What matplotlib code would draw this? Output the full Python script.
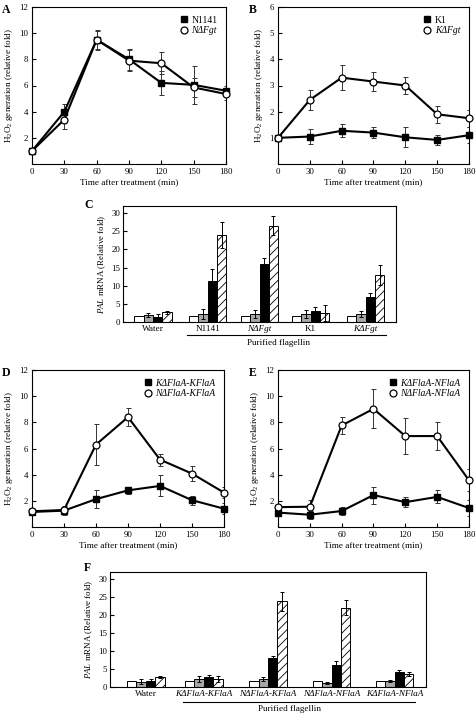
import numpy as np
import matplotlib.pyplot as plt
from matplotlib.lines import Line2D
from matplotlib import transforms

plt.rcParams['font.family'] = ['Liberation Serif', 'DejaVu Serif']
plt.rcParams['mathtext.fontset'] = 'custom'
plt.rcParams['mathtext.rm'] = 'Liberation Serif'
plt.rcParams['mathtext.it'] = 'Liberation Serif:italic'
plt.rcParams['mathtext.default'] = 'regular'
plt.rcParams['font.size'] = 6.3
plt.rcParams['hatch.linewidth'] = 0.6

times = [0, 30, 60, 90, 120, 150, 180]

# A: N1141 (squares) / NdFgt (circles)
a_sq = [1.0, 4.0, 9.5, 8.0, 6.2, 6.05, 5.6]
a_sq_err = [0.0, 0.6, 0.7, 0.8, 0.9, 1.45, 0.4]
a_ci = [1.0, 3.4, 9.5, 7.9, 7.7, 5.85, 5.35]
a_ci_err = [0.0, 0.7, 0.75, 0.8, 0.85, 0.75, 0.45]

# B: K1 / KdFgt
b_sq = [1.0, 1.05, 1.27, 1.2, 1.02, 0.92, 1.1]
b_sq_err = [0.0, 0.3, 0.25, 0.2, 0.38, 0.2, 0.3]
b_ci = [1.0, 2.45, 3.3, 3.15, 3.0, 1.9, 1.75]
b_ci_err = [0.0, 0.37, 0.47, 0.37, 0.33, 0.33, 0.33]

# D: KdFlaA-KFlaA / NdFlaA-KFlaA
d_sq = [1.15, 1.25, 2.13, 2.8, 3.14, 2.05, 1.4]
d_sq_err = [0.0, 0.3, 0.7, 0.25, 0.8, 0.35, 0.4]
d_ci = [1.2, 1.3, 6.3, 8.4, 5.15, 4.08, 2.63]
d_ci_err = [0.0, 0.3, 1.55, 0.7, 0.45, 0.6, 0.4]

# E: KdFlaA-NFlaA / NdFlaA-NFlaA
e_sq = [1.1, 0.94, 1.22, 2.44, 1.9, 2.3, 1.45]
e_sq_err = [0.0, 0.3, 0.3, 0.65, 0.4, 0.5, 0.6]
e_ci = [1.52, 1.55, 7.76, 9.03, 6.95, 6.95, 3.57]
e_ci_err = [0.0, 0.5, 0.65, 1.5, 1.35, 1.1, 0.85]

# C: PAL mRNA, four bars per treatment
c_groups = ['Water', 'N1141', 'NΔFgt', 'K1', 'KΔFgt']
c_italic = [False, False, True, False, True]
c_white = [1.7, 1.7, 1.7, 1.7, 1.7]
c_white_err = [0, 0, 0, 0, 0]
c_gray = [2.0, 2.2, 2.2, 2.3, 2.3]
c_gray_err = [0.5, 1.3, 1.0, 1.1, 0.8]
c_black = [1.5, 11.2, 16.0, 3.0, 6.8]
c_black_err = [0.6, 3.5, 1.7, 1.0, 1.1]
c_hatch = [2.7, 24.0, 26.6, 2.6, 13.0]
c_hatch_err = [0.4, 3.6, 2.7, 2.2, 2.8]

# F
f_groups = ['Water', 'KΔFlaA-KFlaA', 'NΔFlaA-KFlaA', 'NΔFlaA-NFlaA', 'KΔFlaA-NFlaA']
f_italic = [False, True, True, True, True]
f_white = [1.7, 1.7, 1.7, 1.7, 1.6]
f_white_err = [0, 0, 0, 0, 0]
f_gray = [1.5, 2.3, 2.2, 1.1, 1.75]
f_gray_err = [0.6, 0.8, 0.5, 0.4, 0.3]
f_black = [1.6, 2.9, 8.0, 6.2, 4.25]
f_black_err = [0.5, 0.4, 0.6, 0.9, 0.5]
f_hatch = [2.8, 2.3, 23.8, 22.0, 3.6]
f_hatch_err = [0.3, 0.8, 2.7, 2.1, 0.5]

W, H = 477, 714
fig = plt.figure(figsize=(W / 100, H / 100), dpi=100)


def px_axes(l, t, r, b):
    return fig.add_axes([l / W, 1 - b / H, (r - l) / W, (b - t) / H])


def line_panel(ax, sq, sq_err, ci, ci_err, labels, italic, ymax, yticks):
    ax.errorbar(times, sq, yerr=sq_err, fmt='none', ecolor='#333333', elinewidth=0.7, capsize=1.8, capthick=0.7)
    ax.errorbar(times, ci, yerr=ci_err, fmt='none', ecolor='#333333', elinewidth=0.7, capsize=1.8, capthick=0.7)
    ax.plot(times, sq, '-', color='black', lw=1.5, marker='s', ms=4.6, mfc='black', mec='black', clip_on=False, zorder=3)
    ax.plot(times, ci, '-', color='black', lw=1.5, marker='o', ms=5.0, mfc='white', mec='black', mew=0.9, clip_on=False, zorder=4)
    ax.set_xlim(0, 180)
    ax.set_ylim(0, ymax)
    ax.set_xticks(times)
    ax.set_yticks(yticks)
    ax.tick_params(direction='in', length=3, width=0.8, pad=3)
    for s in ax.spines.values():
        s.set_linewidth(0.8)
    ax.set_xlabel('Time after treatment (min)', labelpad=1.5, fontsize=6.6)
    ax.set_ylabel('H$_2$O$_2$ generation (relative fold)', labelpad=3, fontsize=6.6)
    handles = [Line2D([], [], ls='none', marker='s', ms=4.6, mfc='black', mec='black'),
               Line2D([], [], ls='none', marker='o', ms=5.0, mfc='white', mec='black', mew=0.9)]
    leg = ax.legend(handles, labels, loc='upper right', frameon=False, fontsize=6.9,
                    handlelength=0.8, handletextpad=0.4, labelspacing=0.15, borderaxespad=0.5)
    for t, it in zip(leg.get_texts(), italic):
        if it:
            t.set_fontstyle('italic')


def bar_panel(ax, pos, series, errs, width, groups, italic, line_y, text_y):
    colors = ['white', '#a6a6a6', 'black', 'white']
    hatches = [None, None, None, '////']
    pos = np.asarray(pos, dtype=float)
    for i, (vals, err) in enumerate(zip(series, errs)):
        x = pos + (i - 1.5) * width
        ax.bar(x, vals, width, color=colors[i], edgecolor='black', linewidth=0.7, hatch=hatches[i], zorder=2)
        e = np.array(err, dtype=float)
        m = e > 0
        ax.errorbar(x[m], np.array(vals)[m], yerr=e[m], fmt='none', ecolor='black', elinewidth=0.7,
                    capsize=1.5, capthick=0.7, zorder=3)
    ax.set_ylim(0, 32)
    ax.set_yticks([0, 5, 10, 15, 20, 25, 30])
    ax.set_xticks(pos)
    ax.set_xticklabels(groups)
    for t, it in zip(ax.get_xticklabels(), italic):
        if it:
            t.set_fontstyle('italic')
    ax.tick_params(axis='x', length=0, pad=2.5, labelsize=6.6)
    ax.tick_params(axis='y', direction='in', length=3, width=0.8, pad=2)
    for s in ax.spines.values():
        s.set_linewidth(0.8)
    ax.set_ylabel('$\\it{PAL}$ mRNA (Relative fold)', labelpad=2, fontsize=6.4)
    tr = transforms.blended_transform_factory(ax.transData, ax.transAxes)
    x0 = pos[1] - 2.2 * width
    x1 = pos[-1] + 2.2 * width
    ax.plot([x0, x1], [line_y, line_y], color='black', lw=0.8, transform=tr, clip_on=False)
    ax.text((x0 + x1) / 2 - 0.15, text_y, 'Purified flagellin', transform=tr, ha='center', va='center', fontsize=6.6)


axA = px_axes(32, 7, 226, 164)
line_panel(axA, a_sq, a_sq_err, a_ci, a_ci_err, ['N1141', 'NΔFgt'], [False, True], 12, [2, 4, 6, 8, 10, 12])

axB = px_axes(278, 7, 469, 164)
line_panel(axB, b_sq, b_sq_err, b_ci, b_ci_err, ['K1', 'KΔFgt'], [False, True], 6, [1, 2, 3, 4, 5, 6])

axC = px_axes(123, 206, 396, 322)
c_pos = [0, 1.03, 2.0, 2.96, 3.99]
bar_panel(axC, c_pos, [c_white, c_gray, c_black, c_hatch],
          [c_white_err, c_gray_err, c_black_err, c_hatch_err], 0.175, c_groups, c_italic, -0.115, -0.185)
axC.set_xlim(-0.56, 4.56)

axD = px_axes(32, 370, 224, 527)
line_panel(axD, d_sq, d_sq_err, d_ci, d_ci_err, ['KΔFlaA-KFlaA', 'NΔFlaA-KFlaA'], [True, True], 12, [2, 4, 6, 8, 10, 12])

axE = px_axes(278, 370, 469, 527)
line_panel(axE, e_sq, e_sq_err, e_ci, e_ci_err, ['KΔFlaA-NFlaA', 'NΔFlaA-NFlaA'], [True, True], 12, [2, 4, 6, 8, 10, 12])

axF = px_axes(110, 572, 426, 687)
f_pos = [0, 0.92, 1.94, 2.95, 3.95]
bar_panel(axF, f_pos, [f_white, f_gray, f_black, f_hatch],
          [f_white_err, f_gray_err, f_black_err, f_hatch_err], 0.15, f_groups, f_italic, -0.13, -0.19)
axF.set_xlim(-0.57, 4.45)

for lab, (x, y) in zip('ABCDEF', [(2, 10), (249, 10), (84, 205), (2, 373), (249, 373), (84, 568)]):
    fig.text(x / W, 1 - y / H, lab, fontsize=8.5, fontweight='bold', va='center', ha='left')

fig.savefig('out.png', dpi=100)
